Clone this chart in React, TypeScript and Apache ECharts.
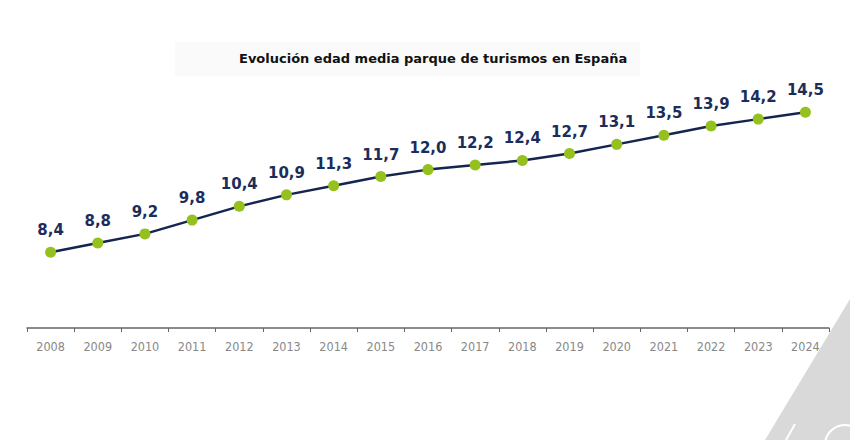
import React, { useEffect, useRef } from "react";
import * as echarts from "echarts";

const years = ["2008","2009","2010","2011","2012","2013","2014","2015","2016","2017","2018","2019","2020","2021","2022","2023","2024"];
const ages = [8.4, 8.8, 9.2, 9.8, 10.4, 10.9, 11.3, 11.7, 12.0, 12.2, 12.4, 12.7, 13.1, 13.5, 13.9, 14.2, 14.5];
const title = "Evolución edad media parque de turismos en España";

export default function App() {
  const ref = useRef<HTMLDivElement>(null);
  useEffect(() => {
    const chart = echarts.init(ref.current!, null, { renderer: "svg" });
    chart.setOption({
      animation: false,
      backgroundColor: "#ffffff",
      graphic: [
        { type: "rect", shape: { x: 175, y: 42, width: 465, height: 34 }, style: { fill: "#fafafa" }, z: -1 },
        { type: "polygon", shape: { points: [[850, 299], [850, 440], [765, 440]] }, style: { fill: "#d9d9d9" }, z: -1 },
        { type: "arc", shape: { cx: 845, cy: 445, r: 20, startAngle: Math.PI, endAngle: Math.PI * 1.6 }, style: { stroke: "#ffffff", lineWidth: 2, fill: "none" }, z: 0 },
        { type: "line", shape: { x1: 795, y1: 424, x2: 786, y2: 440 }, style: { stroke: "#ffffff", lineWidth: 2 }, z: 0 },
      ],
      title: {
        text: title,
        left: 234,
        top: 47,
        textStyle: { fontFamily: "DejaVu Sans", fontWeight: "bold", fontSize: 13, color: "#111" },
      },
      grid: { left: 27, right: 21, top: 75.5, bottom: 112 },
      xAxis: {
        type: "category",
        data: years,
        boundaryGap: true,
        axisLine: { lineStyle: { color: "#666", width: 1.5 } },
        axisTick: { show: true, length: 4, lineStyle: { color: "#666" } },
        axisLabel: { color: "#888", fontFamily: "DejaVu Sans Condensed, DejaVu Sans", fontSize: 12.5, margin: 12 },
      },
      yAxis: {
        type: "value",
        min: 5.1,
        max: 16.1,
        show: false,
        splitLine: { show: false },
      },
      series: [
        {
          type: "line",
          data: ages,
          symbol: "circle",
          symbolSize: 11,
          lineStyle: { color: "#15254f", width: 2.5 },
          itemStyle: { color: "#95c11f" },
          label: {
            show: true,
            position: "top",
            distance: 9,
            formatter: (p: any) => p.value.toFixed(1).replace(".", ","),
            color: "#1c2d5a",
            fontFamily: "DejaVu Sans",
            fontWeight: "bold",
            fontSize: 15,
          },
        },
      ],
    });
    return () => chart.dispose();
  }, []);
  return <div ref={ref} style={{ width: 850, height: 440, position: "absolute", left: 0, top: 0 }} />;
}
